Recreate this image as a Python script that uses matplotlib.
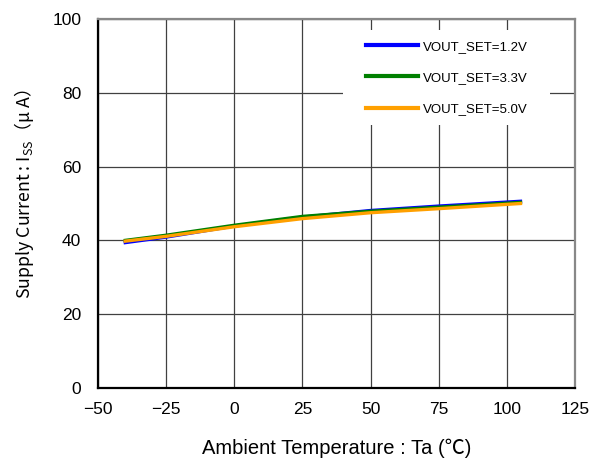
import numpy as np
import matplotlib.pyplot as plt
from matplotlib.patches import Rectangle

plt.rcParams['font.family'] = ['Liberation Sans', 'Noto Sans CJK JP', 'DejaVu Sans']
plt.rcParams['mathtext.fontset'] = 'custom'
plt.rcParams['mathtext.rm'] = 'Noto Sans CJK JP'
plt.rcParams['mathtext.it'] = 'Noto Sans CJK JP'

# sıcaklık noktaları ve akım değerleri (uA)
temps = [-40, -25, 0, 25, 50, 75, 105]
iss_12 = [39.4, 40.9, 43.9, 46.3, 48.1, 49.3, 50.6]
iss_33 = [40.0, 41.4, 44.1, 46.5, 47.9, 49.0, 50.3]
iss_50 = [39.8, 41.1, 43.7, 45.9, 47.5, 48.6, 50.0]

series = [
    ("VOUT_SET=1.2V", iss_12, "#0000ff"),
    ("VOUT_SET=3.3V", iss_33, "#008000"),
    ("VOUT_SET=5.0V", iss_50, "#ffa000"),
]

fig = plt.figure(figsize=(5.94, 4.59), dpi=100)
ax = fig.add_axes([0.165, 0.1547, 0.803, 0.8039])

for label, vals, col in series:
    ax.plot(temps, vals, color=col, linewidth=2.4, label=label, zorder=3)

ax.set_xlim(-50, 125)
ax.set_ylim(0, 100)
ax.set_xticks(np.arange(-50, 126, 25))
ax.set_yticks(np.arange(0, 101, 20))
ax.set_xticklabels(["\u221250", "\u221225", "0", "25", "50", "75", "100", "125"])
ax.tick_params(axis='y', labelsize=12.5, length=0, pad=12)
ax.tick_params(axis='x', labelsize=12.5, length=0, pad=10)
ax.grid(True, color='#404040', linewidth=0.9)
ax.spines['left'].set_color('black')
ax.spines['bottom'].set_color('black')
ax.spines['top'].set_color('#888888')
ax.spines['right'].set_color('#888888')
for s in ax.spines.values():
    s.set_linewidth(1.6)

ax.set_xlabel("Ambient Temperature : Ta (\u2103)", fontsize=14.5, labelpad=16)
ax.set_ylabel("Supply Current\u00a0:\u00a0I$_{\\mathregular{SS}}$\uff08\u03bc A\uff09", fontsize=12.8,
              family='Noto Sans CJK JP')
ax.yaxis.set_label_coords(-0.13, 0.525)

# lejant arkası beyaz kutu (grid çizgilerini örter)
ax.add_patch(Rectangle((0.514, 0.713), 0.434, 0.257, transform=ax.transAxes,
                       facecolor='white', edgecolor='none', zorder=2))
leg = ax.legend(loc='upper left', bbox_to_anchor=(0.562, 0.942), frameon=False,
                fontsize=9.5, handlelength=3.9, labelspacing=1.45, borderpad=0,
                borderaxespad=0, handletextpad=0.4)
for h in leg.get_lines():
    h.set_linewidth(3)

plt.savefig("out.png", dpi=100)
